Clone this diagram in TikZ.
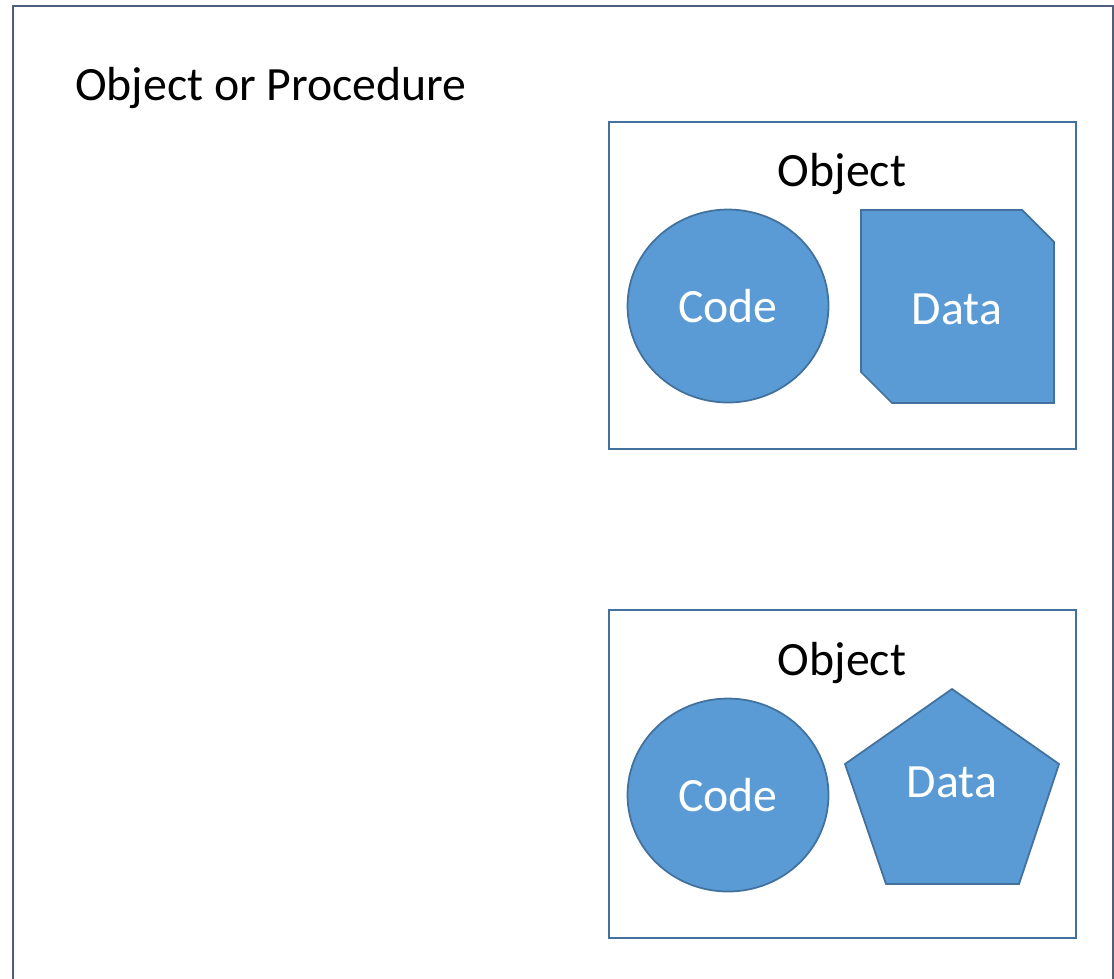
\documentclass[tikz,border=0pt]{standalone}
\usepackage{fontspec}
\setmainfont{Carlito}
\usetikzlibrary{shapes.geometric}
\definecolor{framegray}{HTML}{4E5E7C}
\definecolor{edgeblue}{HTML}{41719C}
\definecolor{fillblue}{HTML}{5B9BD5}

\begin{document}
\begin{tikzpicture}[x=0.02cm, y=-0.02cm,
	label text/.style={font=\fontsize{27.2}{30}\selectfont},
	object box/.style={draw=edgeblue, line width=1.1pt},
	code node/.style={ellipse, draw=edgeblue, fill=fillblue, line width=1pt, minimum width=4.02cm, minimum height=3.86cm, text=white, font=\fontsize{27.2}{30}\selectfont},
	data shape/.style={draw=edgeblue, fill=fillblue, line width=1pt, line join=miter}]
	\useasboundingbox (0,0) rectangle (1114,978);
	
	%outer frame, runs past the lower edge
	\draw[framegray, line width=1.5pt] (13,990) -- (13,6) -- (1113,6) -- (1113,990);
	\node[label text, anchor=base west] (outer) at (69,100) {Object or Procedure};
	
	%first object: snipped data box
	\draw[object box] (609,122) rectangle (1076,449);
	\node[label text, anchor=base] (obja) at (842,186) {Object};
	\node[code node] (codea) at (728,306) {Code};
	\draw[data shape] (861,210) -- (1022,210) -- (1054,242) -- (1054,403) -- (892,403) -- (861,372) -- cycle;
	\node[label text, text=white, anchor=base] (dataa) at (957,324) {Data};
	
	%second object: pentagon data
	\draw[object box] (609,610) rectangle (1076,938);
	\node[label text, anchor=base] (objb) at (842,675) {Object};
	\node[code node] (codeb) at (728,795) {Code};
	\draw[data shape] (952,689) -- (1059,764) -- (1019,884) -- (886,884) -- (845,764) -- cycle;
	\node[label text, text=white, anchor=base] (datab) at (952,797) {Data};
\end{tikzpicture}
\end{document}
